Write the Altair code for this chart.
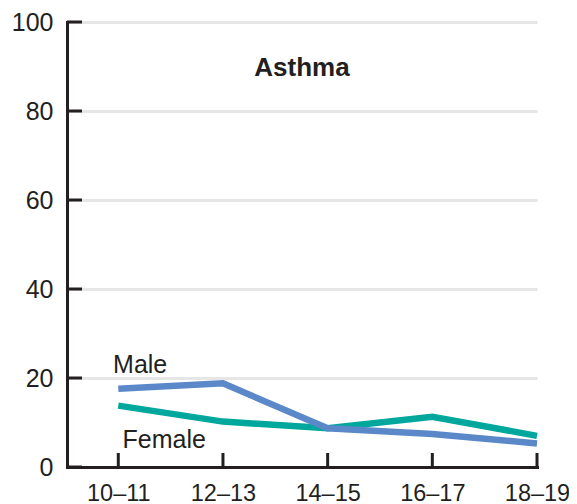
import json
import altair as alt
import pandas as pd

# ---- data ----
AGE_GROUPS = ["10–11", "12–13", "14–15", "16–17", "18–19"]
MALE = [17.6, 18.8, 8.7, 7.4, 5.3]
FEMALE = [13.8, 10.2, 8.7, 11.3, 7.0]
Y_TICKS = [0, 20, 40, 60, 80, 100]
TITLE = "Asthma"
SERIES_LABELS = ["Male", "Female"]
LABEL_X = [-0.05, 0.04]
LABEL_Y = [21.1, 4.3]

rows = []
for i, g in enumerate(AGE_GROUPS):
    rows.append({"idx": i, "series": "Female", "value": FEMALE[i]})
for i, g in enumerate(AGE_GROUPS):
    rows.append({"idx": i, "series": "Male", "value": MALE[i]})
df = pd.DataFrame(rows)
ticks_x = pd.DataFrame({"idx": list(range(len(AGE_GROUPS)))})
ticks_y = pd.DataFrame({"v": Y_TICKS})
labels_df = pd.DataFrame({"t": SERIES_LABELS, "x": LABEL_X, "y": LABEL_Y})
title_df = pd.DataFrame({"t": [TITLE]})

DARK = "#231f20"
FONT = "Liberation Sans"
W, H = 470, 445

xscale = alt.Scale(domain=[-0.49, 4], nice=False, zero=False)
yscale = alt.Scale(domain=[0, 100], nice=False)

label_expr = json.dumps(AGE_GROUPS) + "[datum.value]"

xaxis = alt.Axis(values=list(range(len(AGE_GROUPS))), labelExpr=label_expr, title=None,
                 grid=False, ticks=False, domainColor=DARK, domainWidth=3, domainCap="square",
                 labelFontSize=23.5, labelFont=FONT, labelColor=DARK, labelPadding=14,
                 labelFlush=False, labelOverlap=False, labelBound=False)
yaxis = alt.Axis(values=Y_TICKS, title=None, grid=True, gridColor="#e6e6e6", gridWidth=3,
                 ticks=False, domainColor=DARK, domainWidth=3, domainCap="square",
                 labelFontSize=25, labelFont=FONT, labelColor=DARK, labelPadding=14,
                 labelFlush=False, labelOverlap=False)

lines = alt.Chart(df).mark_line(strokeWidth=6.5).encode(
    x=alt.X("idx:Q", scale=xscale, axis=xaxis),
    y=alt.Y("value:Q", scale=yscale, axis=yaxis),
    color=alt.Color("series:N", scale=alt.Scale(domain=["Female", "Male"],
                                                 range=["#00a79d", "#5b88c8"]), legend=None),
    order=alt.Order("idx:Q"),
)

xt = alt.Chart(ticks_x).mark_rule(color=DARK, strokeWidth=3).encode(
    x=alt.X("idx:Q", scale=xscale),
    y=alt.value(H), y2=alt.value(H - 14),
)
yt = alt.Chart(ticks_y).mark_rule(color=DARK, strokeWidth=3).encode(
    y=alt.Y("v:Q", scale=yscale),
    x=alt.value(0), x2=alt.value(15),
)

labels = alt.Chart(labels_df).mark_text(align="left", baseline="alphabetic", fontSize=25,
                                         font=FONT, color=DARK).encode(
    x=alt.X("x:Q", scale=xscale), y=alt.Y("y:Q", scale=yscale), text="t:N")

title = alt.Chart(title_df).mark_text(align="center", baseline="alphabetic", fontSize=26,
                                       fontWeight="bold", font=FONT, color=DARK).encode(
    x=alt.value(W / 2), y=alt.value(54), text="t:N")

chart = alt.layer(lines, xt, yt, labels, title).properties(
    width=W, height=H,
    autosize=alt.AutoSizeParams(type="none"),
    padding={"left": 59, "top": 14, "right": 32, "bottom": 37},
).configure_view(stroke=None)

chart.save("out.html", embed_options={"renderer": "svg", "actions": False})
